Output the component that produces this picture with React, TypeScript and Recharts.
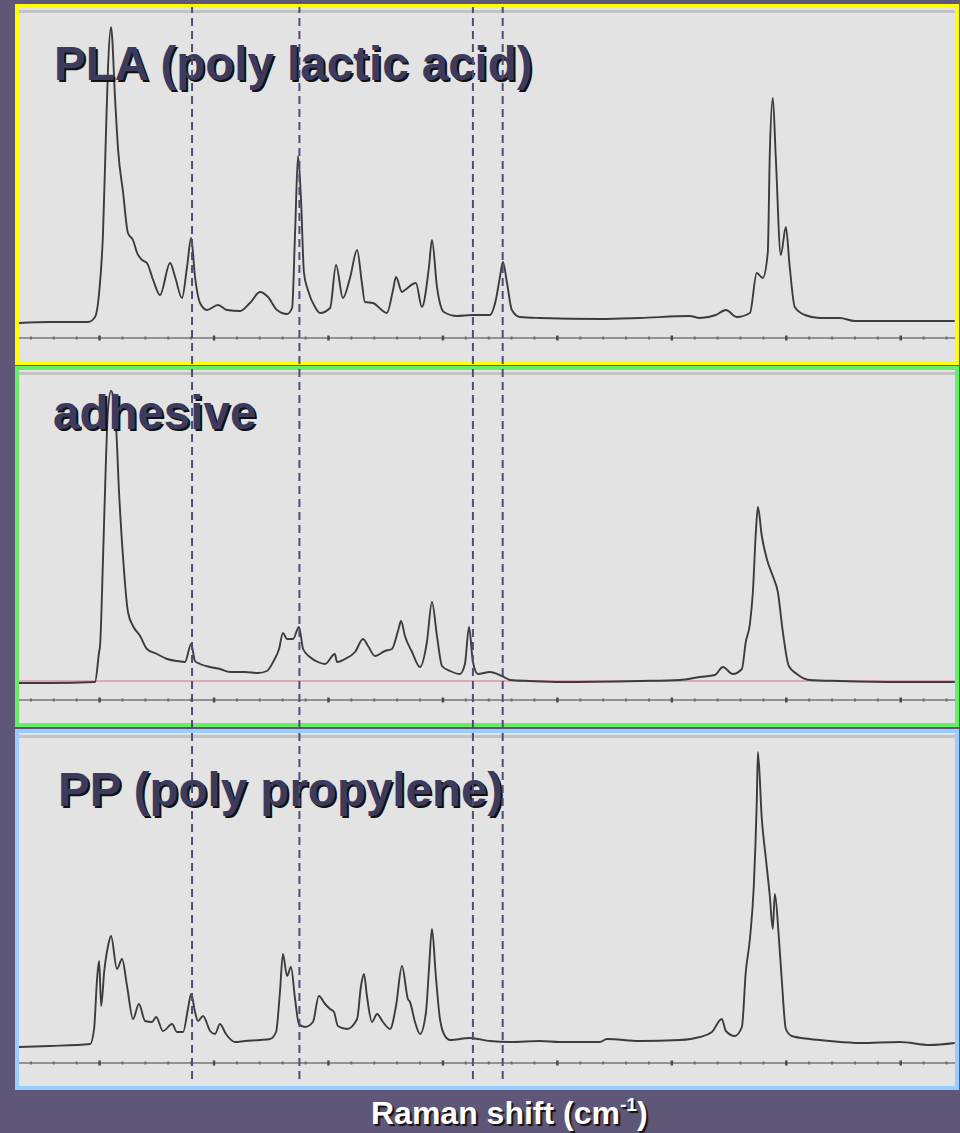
import { LineChart, Line, XAxis, YAxis, ReferenceLine } from 'recharts';

// Raman shift axis (cm-1) and shared ticks
const SHIFT_DOMAIN = [-352, 3737];
const AXIS_TICKS = [
  -300, -200, -100, 0, 100, 200, 300, 400, 500, 600, 700, 800, 900, 1000, 1100, 1200, 1300, 1400,
  1500, 1600, 1700, 1800, 1900, 2000, 2100, 2200, 2300, 2400, 2500, 2600, 2700, 2800, 2900, 3000,
  3100, 3200, 3300, 3400, 3500, 3600, 3700,
];
const MARKER_SHIFTS = [404, 873, 1631, 1761];

const PLA_SHIFT = [
  -352, -216, -50, -20, -2, 15, 28, 37, 50, 68, 81, 103, 124, 146, 164, 186, 207, 234, 264, 308, 330,
  360, 382, 400, 417, 439, 469, 517, 557, 614, 657, 701, 736, 775, 819, 841, 854, 867, 880, 893, 910,
  941, 963, 1007, 1033, 1063, 1094, 1125, 1146, 1159, 1194, 1255, 1282, 1295, 1321, 1334, 1382, 1408,
  1439, 1452, 1474, 1504, 1561, 1627, 1705, 1731, 1749, 1762, 1780, 1801, 1836, 1924, 2186, 2360, 2579,
  2622, 2692, 2736, 2784, 2841, 2871, 2897, 2919, 2928, 2941, 2954, 2976, 2998, 3015, 3037, 3081, 3146,
  3234, 3299, 3496, 3736,
];
const PLA_INTENSITY = [
  15, 16, 16, 21, 45, 105, 205, 271, 311, 238, 188, 145, 105, 98, 85, 78, 75, 58, 43, 75, 61,
  40, 71, 100, 61, 35, 28, 33, 28, 27, 35, 46, 41, 28, 24, 30, 105, 182, 138, 65, 48,
  31, 25, 30, 73, 40, 60, 88, 55, 36, 35, 25, 48, 61, 46, 48, 55, 31,
  71, 98, 51, 26, 22, 23, 23, 38, 61, 76, 55, 28, 21, 20, 19, 20, 22,
  20, 23, 28, 21, 25, 65, 60, 85, 185, 240, 181, 83, 111, 71, 31, 23, 20,
  20, 17, 17, 17,
];

const ADH_SHIFT = [
  -352, -216, -20, -2, 2, 15, 28, 37, 50, 59, 72, 85, 103, 124, 146, 177, 207, 251, 295, 338, 373,
  400, 417, 439, 483, 526, 570, 635, 692, 731, 758, 784, 801, 819, 845, 871, 889, 919, 954, 985, 1028,
  1037, 1072, 1116, 1151, 1173, 1203, 1247, 1277, 1306, 1317, 1334, 1365, 1400, 1430, 1452, 1474, 1496,
  1531, 1574, 1596, 1614, 1631, 1653, 1705, 1758, 1795, 1880, 2011, 2360, 2535, 2622, 2688, 2723, 2766,
  2806, 2823, 2841, 2854, 2867, 2876, 2893, 2915, 2941, 2963, 2985, 3011, 3046, 3103, 3234, 3496, 3736,
];
const ADH_INTENSITY = [
  17, 17, 18, 48, 54, 141, 241, 291, 309, 304, 274, 208, 141, 88, 74, 64, 51, 46, 41, 39, 38,
  56, 39, 36, 33, 31, 28, 28, 27, 29, 38, 51, 67, 61, 61, 73, 51, 43, 38, 36, 46,
  38, 41, 48, 61, 54, 44, 49, 51, 71, 79, 64, 48, 33, 58, 98, 64, 34,
  29, 26, 36, 73, 38, 26, 28, 24, 20, 19, 18, 19, 20, 23, 25, 33, 26,
  31, 58, 76, 108, 168, 193, 164, 141, 124, 108, 68, 34, 26, 20, 19, 18, 18,
];
const ADH_REFERENCE = 19;

const PP_SHIFT = [
  -352, -216, -41, -24, -11, -2, 7, 20, 37, 50, 76, 98, 120, 146, 172, 199, 229, 247, 277, 317, 338,
  365, 386, 400, 417, 430, 452, 483, 504, 526, 552, 592, 635, 701, 745, 771, 788, 801, 819, 836, 854,
  871, 897, 932, 958, 985, 1007, 1024, 1041, 1081, 1125, 1142, 1155, 1168, 1190, 1212, 1238, 1269, 1295,
  1321, 1347, 1356, 1378, 1400, 1426, 1439, 1452, 1469, 1487, 1509, 1531, 1618, 1705, 1795, 1924, 2011,
  2186, 2216, 2360, 2535, 2622, 2675, 2718, 2736, 2775, 2806, 2823, 2841, 2858, 2871, 2876, 2893, 2911,
  2928, 2941, 2950, 2967, 2980, 2998, 3024, 3103, 3190, 3321, 3496, 3627, 3736,
];
const PP_INTENSITY = [
  16, 17, 19, 34, 84, 102, 57, 91, 117, 127, 94, 104, 77, 44, 59, 42, 41, 46, 32, 39, 31,
  31, 54, 69, 51, 42, 47, 32, 29, 39, 29, 21, 22, 23, 24, 31, 71, 109, 87, 96, 64,
  39, 36, 41, 67, 59, 54, 51, 37, 34, 44, 77, 89, 67, 41, 49, 41, 34, 57,
  97, 64, 61, 41, 29, 51, 94, 134, 87, 44, 27, 23, 25, 22, 21, 22, 21,
  21, 24, 22, 23, 26, 31, 44, 32, 27, 36, 91, 124, 177, 261, 311, 244, 204,
  167, 134, 169, 127, 84, 34, 27, 24, 22, 20, 21, 18, 20,
];

const FONT = '"Liberation Sans", Arial, Helvetica, sans-serif';
const INNER_W = 936;
const INNER_H = 353;
const LABEL_SIZE = 47.5;

function toRows(shift: number[], intensity: number[]) {
  return shift.map((s, i) => ({ shift: s, intensity: intensity[i] }));
}

function AxisTick(props: any) {
  const { x, y, payload } = props;
  const major = payload.value % 500 === 0;
  return (
    <line
      x1={x}
      x2={x}
      y1={y - (major ? 2.5 : 1.5)}
      y2={y + (major ? 2.5 : 1.5)}
      stroke={major ? '#4a4a4a' : '#6a6a6a'}
      strokeWidth={major ? 2.5 : 2}
    />
  );
}

type PanelProps = {
  top: number;
  borderColor: string;
  shift: number[];
  intensity: number[];
  label: string;
  labelLeft: number;
  labelBaseline: number;
  reference?: number;
};

function Panel({ top, borderColor, shift, intensity, label, labelLeft, labelBaseline, reference }: PanelProps) {
  const rows = toRows(shift, intensity);
  return (
    <div
      style={{
        position: 'absolute',
        left: 15,
        top,
        width: INNER_W + 8,
        height: INNER_H + 8,
        boxSizing: 'border-box',
        border: `4px solid ${borderColor}`,
        background: '#e3e3e3',
      }}
    >
      <div style={{ position: 'absolute', left: 0, right: 0, top: 2, height: 3, background: '#c3c3c3' }} />
      <div style={{ position: 'absolute', left: 0, top: 0 }}>
        <LineChart width={INNER_W} height={INNER_H} data={rows} margin={{ top: 10, right: 0, bottom: 13, left: 0 }}>
          <XAxis
            type="number"
            dataKey="shift"
            domain={SHIFT_DOMAIN}
            allowDataOverflow
            ticks={AXIS_TICKS}
            interval={0}
            height={10}
            tickSize={0}
            tickMargin={0}
            tickLine={false}
            axisLine={{ stroke: '#777', strokeWidth: 1.5 }}
            tick={(p: any) => <AxisTick {...p} />}
          />
          <YAxis type="number" domain={[0, 320]} hide allowDataOverflow />
          {reference !== undefined && (
            <ReferenceLine y={reference} stroke="#dcaab6" strokeWidth={2} ifOverflow="extendDomain" />
          )}
          <Line
            type="monotone"
            dataKey="intensity"
            stroke="#3c3c3c"
            strokeWidth={1.9}
            dot={false}
            isAnimationActive={false}
          />
        </LineChart>
      </div>
      <div
        style={{
          position: 'absolute',
          left: labelLeft - 19,
          top: labelBaseline - top - 4 - 0.8465 * LABEL_SIZE,
          fontFamily: FONT,
          fontWeight: 'bold',
          fontSize: LABEL_SIZE,
          lineHeight: `${LABEL_SIZE}px`,
          whiteSpace: 'nowrap',
          color: '#3c3b5e',
          textShadow: '2px 2px 0 #111',
        }}
      >
        {label}
      </div>
    </div>
  );
}

export default function App() {
  const markerRows = MARKER_SHIFTS.map((s) => ({ shift: s, v: 0.5 }));
  return (
    <div
      style={{
        position: 'absolute',
        left: 0,
        top: 0,
        width: 960,
        height: 1133,
        overflow: 'hidden',
        background: '#5e5777',
      }}
    >
      <Panel
        top={4}
        borderColor="#ffff00"
        shift={PLA_SHIFT}
        intensity={PLA_INTENSITY}
        label="PLA (poly lactic acid)"
        labelLeft={54}
        labelBaseline={80}
      />
      <Panel
        top={366}
        borderColor="#66ee66"
        shift={ADH_SHIFT}
        intensity={ADH_INTENSITY}
        label="adhesive"
        labelLeft={53}
        labelBaseline={429}
        reference={ADH_REFERENCE}
      />
      <Panel
        top={729}
        borderColor="#99ccff"
        shift={PP_SHIFT}
        intensity={PP_INTENSITY}
        label="PP (poly propylene)"
        labelLeft={58}
        labelBaseline={806}
      />

      {/* dashed marker lines spanning all three panels */}
      <div style={{ position: 'absolute', left: 19, top: 0, pointerEvents: 'none', zIndex: 5 }}>
        <LineChart width={INNER_W} height={1090} data={markerRows} margin={{ top: 7, right: 0, bottom: 11, left: 0 }}>
          <XAxis type="number" dataKey="shift" domain={SHIFT_DOMAIN} allowDataOverflow hide />
          <YAxis type="number" domain={[0, 1]} hide />
          <Line dataKey="v" stroke="none" dot={false} isAnimationActive={false} />
          {MARKER_SHIFTS.map((s) => (
            <ReferenceLine key={s} x={s} stroke="#524c74" strokeWidth={2} strokeDasharray="8 5" />
          ))}
        </LineChart>
      </div>

      <div
        style={{
          position: 'absolute',
          left: 371,
          top: 1124 - 0.8465 * 32,
          fontFamily: FONT,
          fontWeight: 'bold',
          fontSize: 32,
          lineHeight: '32px',
          whiteSpace: 'nowrap',
          color: '#ffffff',
          textShadow: '2px 2px 1px #111',
        }}
      >
        Raman shift (cm
        <span style={{ fontSize: '0.6em', position: 'relative', top: '-0.65em' }}>-1</span>)
      </div>
    </div>
  );
}
